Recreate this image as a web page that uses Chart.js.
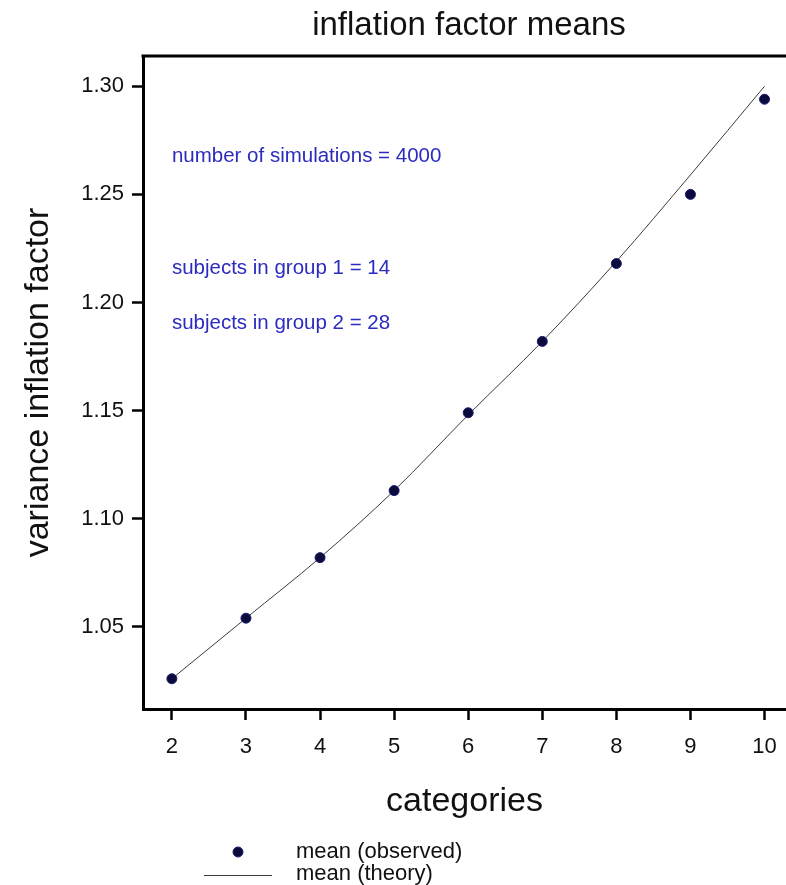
<!DOCTYPE html>
<html>
<head>
<meta charset="utf-8">
<title>inflation factor means</title>
<script src="https://cdn.jsdelivr.net/npm/chart.js@4/dist/chart.umd.min.js"></script>
<style>
  html, body { margin: 0; padding: 0; background: #fff; overflow: hidden; }
  #wrap { position: relative; width: 786px; height: 885px; }
</style>
</head>
<body>
<div id="wrap"><canvas id="c" width="786" height="885"></canvas></div>
<script>
// number of categories on the x axis
const categories = [2, 3, 4, 5, 6, 7, 8, 9, 10];
// simulated mean of the variance inflation factor
const observedMeans = [1.026, 1.054, 1.082, 1.113, 1.149, 1.182, 1.218, 1.250, 1.294];
// theoretical mean of the variance inflation factor
const theoryMeans = [1.026, 1.054, 1.082, 1.113, 1.148, 1.182, 1.219, 1.259, 1.300];
// axis tick values
const xTicks = [2, 3, 4, 5, 6, 7, 8, 9, 10];
const yTicks = [1.05, 1.10, 1.15, 1.20, 1.25, 1.30];
// notes printed inside the plot, placed at (category, factor)
const notes = [
  { text: 'number of simulations = 4000', x: 2, y: 1.2677 },
  { text: 'subjects in group 1 = 14', x: 2, y: 1.2159 },
  { text: 'subjects in group 2 = 28', x: 2, y: 1.1905 }
];
const legendItems = ['mean (observed)', 'mean (theory)'];
const titleText = 'inflation factor means';

const FONT = "'Liberation Sans', Arial, Helvetica, sans-serif";
const POINT_FILL = '#0a0a3c';
const POINT_EDGE = '#1c1c70';
const LINE_COLOR = '#3a3a3a';
const NOTE_COLOR = '#2b2bbf';

const toXY = (xs, ys) => xs.map((x, i) => ({ x: x, y: ys[i] }));

// frame line along the top of the plot, title, notes and legend
const decorations = {
  id: 'decorations',
  afterDraw(chart) {
    const { ctx, chartArea, scales } = chart;
    ctx.save();
    // top frame
    ctx.strokeStyle = '#000';
    ctx.lineWidth = 3;
    ctx.beginPath();
    ctx.moveTo(chartArea.left - 1.5, chartArea.top);
    ctx.lineTo(chart.width, chartArea.top);
    ctx.stroke();

    // title
    ctx.fillStyle = '#111';
    ctx.font = '33px ' + FONT;
    ctx.textAlign = 'center';
    ctx.textBaseline = 'alphabetic';
    ctx.fillText(titleText, 469, 35);

    // notes
    ctx.fillStyle = NOTE_COLOR;
    ctx.font = '20.5px ' + FONT;
    ctx.textAlign = 'left';
    ctx.textBaseline = 'middle';
    notes.forEach(n => {
      ctx.fillText(n.text, scales.x.getPixelForValue(n.x), scales.y.getPixelForValue(n.y));
    });

    // legend
    ctx.fillStyle = POINT_FILL;
    ctx.strokeStyle = POINT_EDGE;
    ctx.lineWidth = 1;
    ctx.beginPath();
    ctx.arc(238, 852, 5, 0, Math.PI * 2);
    ctx.fill();
    ctx.stroke();
    ctx.strokeStyle = LINE_COLOR;
    ctx.lineWidth = 1;
    ctx.beginPath();
    ctx.moveTo(204, 875.5);
    ctx.lineTo(272, 875.5);
    ctx.stroke();
    ctx.fillStyle = '#111';
    ctx.font = '22px ' + FONT;
    ctx.textAlign = 'left';
    ctx.textBaseline = 'middle';
    ctx.fillText(legendItems[0], 296, 852);
    ctx.fillText(legendItems[1], 296, 874);
    ctx.restore();
  }
};

new Chart(document.getElementById('c'), {
  type: 'scatter',
  data: {
    datasets: [
      {
        label: legendItems[1],
        type: 'line',
        data: toXY(categories, theoryMeans),
        borderColor: LINE_COLOR,
        borderWidth: 1,
        pointRadius: 0,
        fill: false,
        cubicInterpolationMode: 'monotone',
        order: 2
      },
      {
        label: legendItems[0],
        data: toXY(categories, observedMeans),
        backgroundColor: POINT_FILL,
        borderColor: POINT_EDGE,
        borderWidth: 1,
        pointRadius: 5,
        order: 1
      }
    ]
  },
  options: {
    responsive: false,
    animation: false,
    devicePixelRatio: 1,
    layout: { autoPadding: false, padding: { top: 56, right: 0, bottom: 60, left: 0 } },
    plugins: {
      legend: { display: false },
      tooltip: { enabled: false },
      title: { display: false }
    },
    scales: {
      x: {
        type: 'linear',
        position: 'bottom',
        min: 1.61,
        max: 10.29,
        afterBuildTicks: s => { s.ticks = xTicks.map(v => ({ value: v })); },
        afterFit: s => { s.height = 116; s.paddingLeft = 0; s.paddingRight = 0; },
        ticks: {
          color: '#111',
          font: { family: FONT, size: 22 },
          padding: 14,
          maxRotation: 0,
          callback: v => String(v)
        },
        grid: {
          display: true,
          drawOnChartArea: false,
          drawTicks: true,
          tickLength: 11,
          tickWidth: 2.5,
          tickColor: '#000'
        },
        border: { display: true, color: '#000', width: 3 },
        title: {
          display: true,
          text: 'categories',
          color: '#111',
          font: { family: FONT, size: 34 },
          padding: { top: 0, bottom: 3 }
        }
      },
      y: {
        min: 1.012,
        max: 1.314,
        afterBuildTicks: s => { s.ticks = yTicks.map(v => ({ value: v })); },
        afterFit: s => { s.width = 143; },
        ticks: {
          color: '#111',
          font: { family: FONT, size: 22 },
          padding: 8,
          callback: v => Number(v).toFixed(2)
        },
        grid: {
          display: true,
          drawOnChartArea: false,
          drawTicks: true,
          tickLength: 11,
          tickWidth: 2.5,
          tickColor: '#000'
        },
        border: { display: true, color: '#000', width: 3 },
        title: {
          display: true,
          text: 'variance inflation factor',
          color: '#111',
          font: { family: FONT, size: 34 },
          padding: { top: 18, bottom: 0 }
        }
      }
    }
  },
  plugins: [decorations]
});
</script>
</body>
</html>
